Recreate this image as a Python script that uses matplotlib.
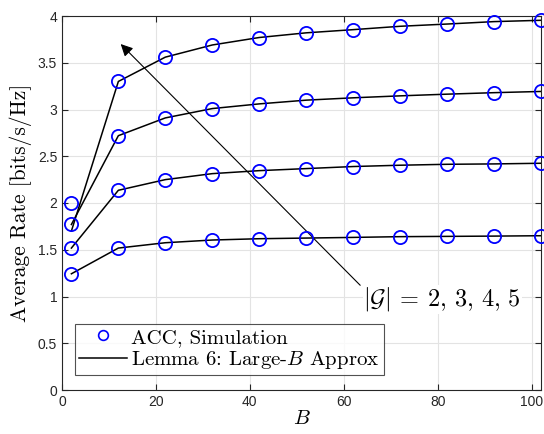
import matplotlib
matplotlib.use("Agg")
import matplotlib.pyplot as plt
from matplotlib.lines import Line2D

plt.rcParams['mathtext.fontset'] = 'cm'
plt.rcParams['font.family'] = ['Liberation Sans', 'DejaVu Sans']

B = [2, 12, 22, 32, 42, 52, 62, 72, 82, 92, 102]

sim_G2 = [1.243, 1.518, 1.575, 1.604, 1.618, 1.625, 1.632, 1.640, 1.643, 1.646, 1.650]
sim_G3 = [1.518, 2.136, 2.250, 2.314, 2.346, 2.368, 2.390, 2.404, 2.414, 2.418, 2.425]
sim_G4 = [1.775, 2.720, 2.910, 3.010, 3.060, 3.100, 3.125, 3.146, 3.164, 3.180, 3.193]
sim_G5 = [1.995, 3.310, 3.560, 3.690, 3.770, 3.820, 3.854, 3.890, 3.914, 3.940, 3.954]

apx_G2 = [1.243, 1.518, 1.575, 1.604, 1.618, 1.625, 1.632, 1.640, 1.643, 1.646, 1.650]
apx_G3 = [1.518, 2.136, 2.250, 2.314, 2.346, 2.368, 2.390, 2.404, 2.414, 2.418, 2.425]
apx_G4 = [1.770, 2.720, 2.910, 3.010, 3.060, 3.100, 3.125, 3.146, 3.164, 3.180, 3.193]
apx_G5 = [1.700, 3.300, 3.560, 3.690, 3.770, 3.820, 3.854, 3.890, 3.914, 3.940, 3.954]

sims = [sim_G2, sim_G3, sim_G4, sim_G5]
apxs = [apx_G2, apx_G3, apx_G4, apx_G5]

xticks = [0, 20, 40, 60, 80, 100]
yticks = [0, 0.5, 1, 1.5, 2, 2.5, 3, 3.5, 4]
yticklabels = ['0', '0.5', '1', '1.5', '2', '2.5', '3', '3.5', '4']

fig = plt.figure(figsize=(5.44, 4.34), dpi=100)
ax = fig.add_axes([62/544, 1-390/434, (541-62)/544, (390-16)/434])

for a in apxs:
    ax.plot(B, a, color='black', lw=1.1, zorder=3)
for s in sims:
    ax.plot(B, s, linestyle='none', marker='o', markersize=9.5, markerfacecolor='none',
            markeredgecolor='#0000ff', markeredgewidth=1.3, clip_on=False, zorder=4)

ax.set_xlim(0, 102)
ax.set_ylim(0, 4)
ax.set_xticks(xticks)
ax.set_yticks(yticks)
ax.set_yticklabels(yticklabels)
ax.tick_params(direction='in', top=True, right=True, labelsize=10, colors='#262626',
               length=4, width=0.8)
ax.grid(True, color='#e3e3e3', lw=0.8)
ax.set_axisbelow(True)
for sp in ax.spines.values():
    sp.set_color('#262626')
    sp.set_linewidth(0.8)

ax.set_xlabel(r'$B$', fontsize=15, labelpad=0)
ax.set_ylabel('Average Rate [bits/s/Hz]', fontsize=15.5, family='cmr10', labelpad=4)

ax.annotate('', xy=(12.5, 3.70), xytext=(63.5, 1.12),
            arrowprops=dict(arrowstyle='-|>', color='black', lw=0.8,
                            mutation_scale=18, shrinkA=0, shrinkB=0))
ax.text(64.2, 0.97, r'$|\mathcal{G}|\:=\:2,\,3,\,4,\,5$', fontsize=17.5, ha='left', va='center',
        bbox=dict(facecolor='white', edgecolor='none', pad=0.5))

handles = [Line2D([], [], linestyle='none', marker='o', markersize=7, markerfacecolor='none',
                  markeredgecolor='#0000ff', markeredgewidth=1.2),
           Line2D([], [], color='black', lw=1.1)]
labels = ['ACC, Simulation', r'Lemma 6: Large-$B$ Approx']
leg = ax.legend(handles, labels, loc='lower left', bbox_to_anchor=(0.027, 0.04),
                prop={'family': 'cmr10', 'size': 15}, frameon=True, fancybox=False,
                edgecolor='#262626',
                handlelength=2.3, handletextpad=0.2, borderpad=0.2, labelspacing=0.1,
                borderaxespad=0)
leg.get_frame().set_linewidth(0.8)

fig.savefig('out.png', dpi=100)
